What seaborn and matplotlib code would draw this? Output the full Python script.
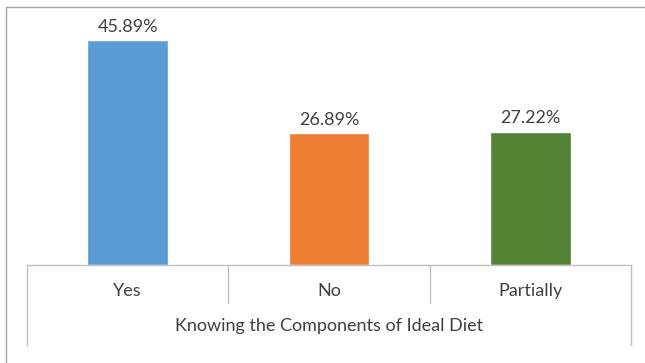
import matplotlib
matplotlib.use("Agg")
import matplotlib.pyplot as plt
import seaborn as sns
import pandas as pd
from matplotlib.patches import Rectangle

categories = ["Yes", "No", "Partially"]
values = [45.89, 26.89, 27.22]
group_label = "Knowing the Components of Ideal Diet"
colors = ["#5B9BD5", "#ED7D31", "#548235"]

sns.set_theme(style="white")
plt.rcParams["font.family"] = ["Lato", "DejaVu Sans"]

df = pd.DataFrame({"cat": categories, "val": values})

fig = plt.figure(figsize=(6.45, 3.63), dpi=100)
W, H = 645, 363
ax = fig.add_axes([27 / W, 1 - 265 / H, (631 - 27) / W, (265 - 20) / H])

sns.barplot(data=df, x="cat", y="val", hue="cat", palette=colors,
            order=categories, hue_order=categories, width=0.4,
            legend=False, ax=ax, saturation=1)

ax.set_ylim(0, 50)
ax.set_xlim(-0.5, 2.5)
ax.set_xlabel("")
ax.set_ylabel("")
ax.set_yticks([])
ax.set_xticks([])
for s in ["top", "right", "left"]:
    ax.spines[s].set_visible(False)
ax.spines["bottom"].set_color("#BFBFBF")
ax.spines["bottom"].set_linewidth(1.0)

text_color = "#404040"
fs = 13
for p, v in zip(ax.patches, values):
    ax.annotate(f"{v:.2f}%", (p.get_x() + p.get_width() / 2, p.get_height()),
                xytext=(0, 6), textcoords="offset points", ha="center",
                va="baseline", fontsize=fs, color=text_color)

tr = ax.get_xaxis_transform()
line_kw = dict(color="#BFBFBF", lw=1.0, clip_on=False, transform=tr)
for xd in [0.5, 1.5]:
    ax.plot([xd, xd], [0, -0.155], **line_kw)
for xd in [-0.5, 2.5]:
    ax.plot([xd, xd], [0, -0.327], **line_kw)

for i, c in enumerate(categories):
    ax.text(i, -0.105, c, transform=tr, ha="center", va="center",
            fontsize=fs, color=text_color)
ax.text(1, -0.25, group_label, transform=tr, ha="center", va="center",
        fontsize=fs, color=text_color)

# chart frame (extends past the right and bottom edges)
fig.patches.append(Rectangle((6 / W, -0.1), 1.2, 1 - 7 / H + 0.1,
                             transform=fig.transFigure, fill=False,
                             edgecolor="#A6A6A6", lw=1.0))

fig.savefig("out.png", dpi=100)
